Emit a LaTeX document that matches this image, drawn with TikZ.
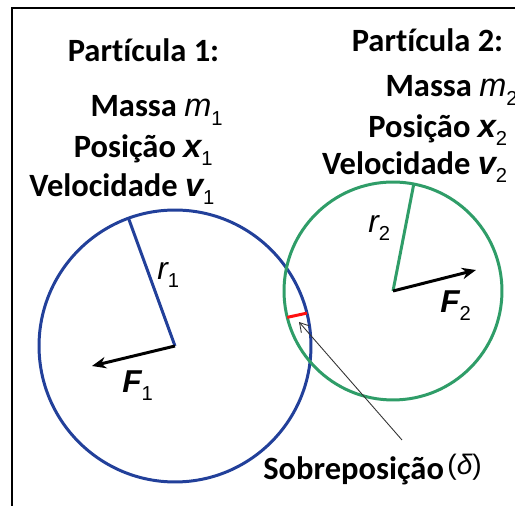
\documentclass[tikz,border=0pt]{standalone}
\usepackage{fontspec}
\setmainfont{Carlito}[Ligatures=NoCommon]
\newfontfamily\arialf{Liberation Sans}
\usetikzlibrary{arrows.meta, positioning}
\definecolor{pblue}{HTML}{22409A}
\definecolor{pgreen}{HTML}{2F9D68}
\definecolor{ovred}{HTML}{FF1010}
\newcommand{\vsym}[1]{{\arialf\bfseries\itshape #1}}
\newcommand{\ssym}[1]{{\arialf\mdseries\itshape #1}}
\newcommand{\idx}[1]{\raisebox{-0.25em}{\arialf\mdseries\upshape\fontsize{11.5}{11.5}\selectfont #1}}

\begin{document}
\begin{tikzpicture}[x=0.02cm, y=-0.02cm,
      every node/.style={font=\fontsize{18.5}{22}\selectfont\bfseries, inner sep=0pt},
      particle/.style={circle, draw, line width=1.7pt, outer sep=0pt, inner sep=0pt},
      rad/.style={line width=1.7pt},
      force/.style={-{Stealth[length=8pt, width=6.5pt]}, line width=1.7pt, black},
      row/.style={text height=14pt, text depth=5pt},
      sym/.style={font=\fontsize{18}{22}\selectfont},
      pointer/.style={-{Straight Barb[length=5pt, width=6pt]}, line width=0.5pt, black!80}
    ]
    \useasboundingbox[fill=white] (0,0) rectangle (515,506);
    \draw[line width=1.1pt] (12,506) -- (12,8) -- (515,8);

    % particles
    \node[particle, draw=pblue, minimum size=5.44cm] (p1) at (175,346) {};
    \node[particle, draw=pgreen, minimum size=4.36cm] (p2) at (393,291) {};
    \draw[rad, pblue] (p1.center) -- (p1.110);
    \draw[rad, pgreen] (p2.center) -- (p2.79);
    \coordinate (f1end) at (92,366);
    \coordinate (f2end) at (476,270);
    \draw[force] (p1.center) -- (f1end);
    \draw[force] (p2.center) -- (f2end);
    \draw[ovred, line width=1.7pt] (p2.194) -- (p1.14);

    \node[sym, anchor=base west] (r1) at (157,280) {\ssym{r}\idx{1}};
    \node[sym, anchor=base west] (r2) at (368,233) {\ssym{r}\idx{2}};
    \node[sym, anchor=base west] (F1) at (122,393) {\vsym{F}\idx{1}};
    \node[sym, anchor=base west] (F2) at (440,313) {\vsym{F}\idx{2}};

    % data of each particle
    \node[anchor=base] (head1) at (143.5,62) {Partícula 1:};
    \node[row, anchor=base east] (mass1) at (223,117) {Massa \ssym{m}\idx{1}};
    \node[row, below left=3.7pt and 5.7pt of mass1.south east] (pos1) {Posição \vsym{x}\idx{1}};
    \node[row, below left=2.5pt and -1pt of pos1.south east] (vel1) {Velocidade \vsym{v}\idx{1}};

    \node[anchor=base] (head2) at (427.5,52) {Partícula 2:};
    \node[row, anchor=base east] (mass2) at (518,97) {Massa \ssym{m}\idx{2}};
    \node[row, below left=3.7pt and 6pt of mass2.south east] (pos2) {Posição \vsym{x}\idx{2}};
    \node[row, below left=1.5pt and 0pt of pos2.south east] (vel2) {Velocidade \vsym{v}\idx{2}};

    % overlap
    \node[anchor=base west] (overlap) at (263,480) {Sobreposição\hspace{2pt}\raisebox{3pt}{\arialf\mdseries\fontsize{16}{16}\selectfont(\itshape δ\upshape)}};
    \coordinate (tail) at (402,440);
    \coordinate (tip) at (299,322);
    \draw[pointer] (tail) -- (tip);
\end{tikzpicture}
\end{document}
